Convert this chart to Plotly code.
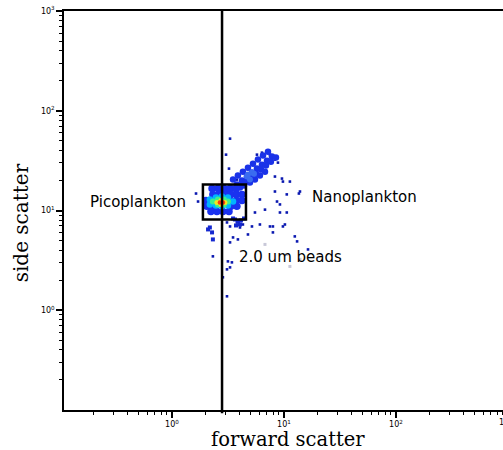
import numpy as np
import plotly.graph_objects as go

# Dense picoplankton core: forward scatter, side scatter, density level (0 = sparse .. 4 = peak)
core_fsc = [2.28, 2.57, 2.91, 3.30, 3.73,
            2.32, 2.63, 2.97, 3.36, 3.80, 4.22,
            2.01, 2.28, 3.30, 3.73, 4.22,
            2.05, 2.32, 3.36, 3.80,
            2.23, 2.52, 2.85, 3.23,
            2.18, 2.18, 2.47, 2.47, 2.79, 2.79, 3.16, 3.16, 3.51,
            2.32, 2.57, 2.57, 2.91, 2.91, 3.16,
            2.52, 2.74, 2.74, 2.97,
            2.68, 2.85]
core_ssc = [16.6, 16.6, 16.6, 16.6, 16.6,
            14.5, 14.5, 14.5, 14.5, 14.5, 14.5,
            12.6, 12.6, 12.6, 12.6, 12.6,
            11.0, 11.0, 11.0, 11.0,
            9.77, 9.77, 9.77, 9.77,
            12.9, 11.5, 13.5, 11.2, 13.8, 11.0, 13.5, 11.2, 12.3,
            12.3, 12.9, 11.5, 12.9, 11.5, 12.3,
            12.0, 12.6, 11.5, 12.0,
            12.0, 12.0]
core_level = [0] * 24 + [1] * 9 + [2] * 6 + [3] * 4 + [4] * 2

# Nanoplankton band running up and to the right
nano_fsc = [3.43, 3.80, 4.22, 4.67, 5.18, 5.74, 6.36, 7.05, 7.81,
            3.51, 3.88, 4.30, 4.77, 5.29, 5.86, 6.50, 7.20,
            4.13, 4.58, 5.08, 5.62, 6.23, 6.91, 7.65, 8.48, 3.16,
            3.73, 4.05, 4.40, 4.97, 5.51, 6.10, 6.77]
nano_ssc = [16.6, 18.2, 20.0, 21.9, 24.0, 26.3, 28.8, 31.6, 34.7,
            20.4, 22.4, 24.5, 26.9, 29.5, 32.4, 35.5, 38.9,
            17.8, 19.5, 21.4, 23.4, 25.7, 28.2, 30.9, 33.9, 15.5,
            16.2, 17.0, 17.8, 19.1, 20.4, 22.4, 24.5]
nano_core_fsc = [4.67, 5.18, 4.77, 5.40, 4.97]
nano_core_ssc = [21.9, 24.0, 22.9, 23.4, 20.4]

# Clumped events just outside the gate
clump_fsc = [3.65, 3.88, 4.13, 3.73, 4.05, 4.40, 3.51, 2.18, 2.28, 2.32, 2.10]
clump_ssc = [8.13, 7.76, 7.94, 7.08, 7.24, 8.32, 8.32, 6.76, 6.03, 5.13, 6.46]

# Isolated events (incl. the 2.0 um beads)
dot_fsc = [3.30, 3.04, 3.23, 3.80, 5.74, 6.36, 7.50, 8.31, 8.84, 9.60, 8.31, 10.6, 8.67, 6.10,
           6.77, 5.51, 9.21, 1.64, 1.71, 3.10, 3.30, 3.80, 4.05, 4.30, 3.51, 3.30, 3.88, 4.77,
           5.18, 6.10, 7.50, 7.97, 10.2, 2.32, 3.16, 3.43, 3.10, 3.30, 2.85, 3.10, 8.31, 9.79,
           11.3, 13.9, 13.6, 9.21, 10.6, 7.97, 9.79, 12.5, 13.1, 16.4]
dot_ssc = [52.5, 36.3, 26.3, 20.4, 36.3, 38.0, 36.3, 32.4, 30.2, 20.9, 15.5, 14.5, 12.3, 12.9,
           10.2, 9.55, 9.55, 14.8, 12.3, 7.59, 6.92, 7.59, 6.76, 7.24, 5.37, 4.79, 5.13, 5.75,
           6.92, 7.24, 6.92, 6.03, 7.24, 3.47, 3.09, 3.02, 2.57, 2.69, 2.14, 1.38, 21.9, 19.5,
           19.5, 15.5, 14.8, 11.5, 9.55, 6.92, 6.92, 5.50, 4.90, 4.07]
faint_fsc = [10.6, 11.3, 6.77, 13.9]
faint_ssc = [3.63, 2.75, 4.57, 3.24]

# Gate and forward-scatter threshold
gate_fsc = [1.89, 4.58]
gate_ssc = [8.13, 18.2]
fsc_threshold = 2.8

# Region labels: text, forward scatter, side scatter
label_text = ["Picoplankton", "Nanoplankton", "2.0 um beads"]
label_fsc = [0.178, 17.1, 3.80]
label_ssc = [12.3, 13.8, 3.39]

# Decade ticks
tick_vals = [1, 10, 100, 1000]
tick_text = ["10<sup>0</sup>", "10<sup>1</sup>", "10<sup>2</sup>", "10<sup>3</sup>"]

level_colors = ["#1a32f0", "#00b4ff", "#3cf08c", "#f5e61e", "#ff3a10"]
level_sizes = [7.5, 6.5, 6, 5, 4.5]

X_RANGE = [-0.964, 2.956]
Y_RANGE = [-1, 3]

fig = go.Figure()

fig.add_trace(go.Scatter(x=faint_fsc, y=faint_ssc, mode="markers",
                         marker=dict(color="#c8c8d8", size=3, symbol="square"),
                         hoverinfo="skip"))
fig.add_trace(go.Scatter(x=dot_fsc, y=dot_ssc, mode="markers",
                         marker=dict(color="#0a18b0", size=2.6, symbol="square"),
                         hoverinfo="skip"))
fig.add_trace(go.Scatter(x=clump_fsc, y=clump_ssc, mode="markers",
                         marker=dict(color="#1428d0", size=4, symbol="square"),
                         hoverinfo="skip"))
fig.add_trace(go.Scatter(x=nano_fsc, y=nano_ssc, mode="markers",
                         marker=dict(color="#1a32e8", size=6.5),
                         hoverinfo="skip"))
fig.add_trace(go.Scatter(x=nano_core_fsc, y=nano_core_ssc, mode="markers",
                         marker=dict(color="#3a6cf0", size=6),
                         hoverinfo="skip"))

core_fsc_a = np.array(core_fsc)
core_ssc_a = np.array(core_ssc)
core_level_a = np.array(core_level)
for lvl in range(5):
    sel = core_level_a == lvl
    fig.add_trace(go.Scatter(x=core_fsc_a[sel], y=core_ssc_a[sel], mode="markers",
                             marker=dict(color=level_colors[lvl], size=level_sizes[lvl]),
                             hoverinfo="skip"))

# Gate rectangle and forward-scatter threshold line
fig.add_shape(type="rect", xref="x", yref="y",
              x0=gate_fsc[0], x1=gate_fsc[1], y0=gate_ssc[0], y1=gate_ssc[1],
              line=dict(color="black", width=2.5))
fig.add_shape(type="line", xref="x", yref="paper",
              x0=fsc_threshold, x1=fsc_threshold, y0=-0.008, y1=1,
              line=dict(color="black", width=2.5))

for t, fx, sy in zip(label_text, label_fsc, label_ssc):
    fig.add_annotation(x=np.log10(fx), y=np.log10(sy), xref="x", yref="y", text=t,
                       showarrow=False, xanchor="left", yanchor="middle",
                       font=dict(family="DejaVu Sans", size=15, color="black"))

# Partially visible 10^3 label at the right edge of the forward-scatter axis
fig.add_annotation(x=0.986, y=-0.03, xref="paper", yref="paper",
                   text=tick_text[-1], showarrow=False, xanchor="left", yanchor="middle",
                   font=dict(family="DejaVu Sans", size=8, color="black"))

fig.add_annotation(x=0.51, y=-0.074, xref="paper", yref="paper", text="forward scatter",
                   showarrow=False, xanchor="center", yanchor="middle", borderpad=0,
                   font=dict(family="DejaVu Serif", size=19.5, color="black"))
fig.add_annotation(x=-0.096, y=0.47, xref="paper", yref="paper", text="side scatter",
                   showarrow=False, xanchor="center", yanchor="middle", textangle=-90,
                   font=dict(family="DejaVu Serif", size=20, color="black"))

minor_vals = [m * 10.0 ** k for k in range(-1, 3) for m in range(2, 10)]

axis_common = dict(type="log", tickmode="array", tickvals=tick_vals, ticktext=tick_text,
                   showgrid=False, zeroline=False,
                   showline=True, linecolor="black", linewidth=1.5,
                   ticks="outside", ticklen=6, tickwidth=2, tickcolor="black",
                   tickfont=dict(family="DejaVu Sans", size=8, color="black"),
                   minor=dict(ticks="outside", tickmode="array", tickvals=minor_vals,
                              ticklen=3, tickwidth=1.2, tickcolor="black", showgrid=False))

fig.update_layout(
    width=503, height=450,
    margin=dict(l=64, r=0, t=11, b=40),
    paper_bgcolor="white", plot_bgcolor="white",
    showlegend=False,
    xaxis=dict(range=X_RANGE, mirror=True, **axis_common),
    yaxis=dict(range=Y_RANGE, **axis_common),
)

fig.write_html("out.html")
